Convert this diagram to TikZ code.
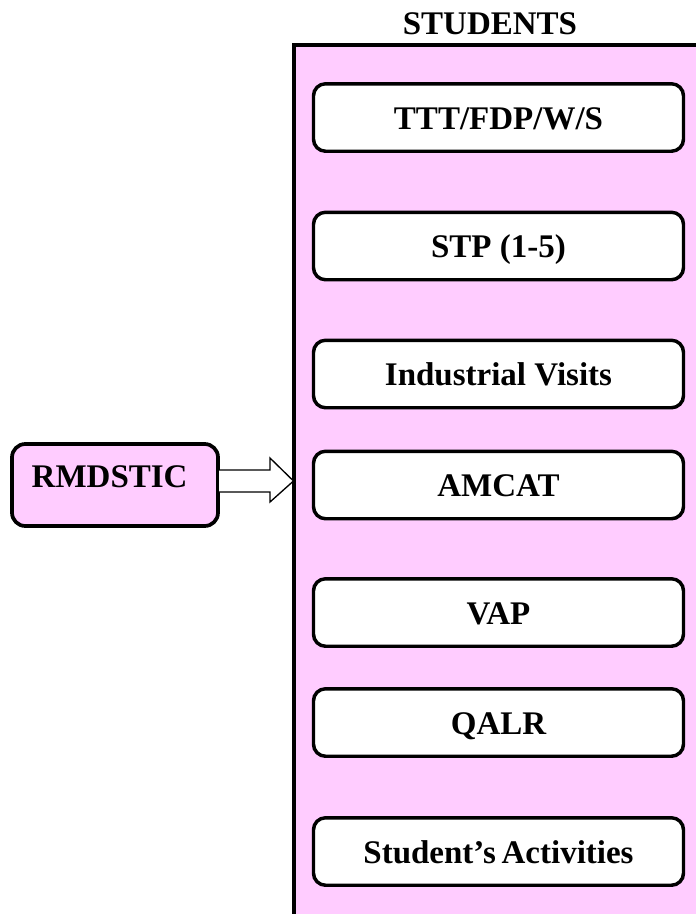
\documentclass[tikz,border=0pt]{standalone}
\usepackage{fontspec}
\setmainfont{Liberation Serif}
\usepackage{tikz}
\usetikzlibrary{calc}
\definecolor{pinkbg}{HTML}{FFCCFF}

\begin{document}
\begin{tikzpicture}[x=0.75pt, y=-0.75pt,
        every node/.style={font=\fontsize{24.75pt}{29pt}\selectfont\bfseries, outer sep=0pt},
        itembox/.style={draw, line width=2.6pt, rounded corners=9pt, fill=white, minimum width=277.5pt, minimum height=50.6pt, inner sep=0pt, text height=17.5pt, text depth=0pt},
        srcbox/.style={draw, line width=2.8pt, rounded corners=10pt, fill=pinkbg, minimum width=154.5pt, minimum height=61.5pt, inner sep=0pt, text height=18pt, text depth=15pt},
        hollowarrow/.style={draw, line width=1pt, fill=white, line join=miter}]
        \useasboundingbox (0, 0) rectangle (696, 914);
        \clip (0, 0) rectangle (696, 914);
        \node[draw, line width=3pt, fill=pinkbg, anchor=north west, minimum width=320pt, minimum height=680pt] at (293.5, 44.5) (students) {};
        \node at (490, 24) (title) {STUDENTS};
        \node[itembox] at (498.5, 117.5) (ttt) {TTT/FDP/W/S};
        \node[itembox] at (498.5, 246) (stp) {STP (1-5)};
        \node[itembox] at (498.5, 374) (visits) {Industrial Visits};
        \node[itembox] at (498.5, 485) (amcat) {AMCAT};
        \node[itembox] at (498.5, 612.5) (vap) {VAP};
        \node[itembox] at (498.5, 722.5) (qalr) {QALR};
        \node[itembox] at (498.5, 851.5) (activities) {Student’s\hspace{-2pt} Activities};
        \coordinate (tip) at ($(students.north west)+(0, 436.5)$);
        \node[srcbox] at (115, 485) (rmd) {\hspace*{-8pt}RMDSTIC};
        \draw[hollowarrow] ($(rmd.east)+(1, -15)$) -- ++(51, 0) -- ++(0, -12) -- (tip) -- ($(rmd.east)+(52, 17)$) -- ++(0, -10) -- ($(rmd.east)+(1, 7)$);
    \end{tikzpicture}
\end{document}
